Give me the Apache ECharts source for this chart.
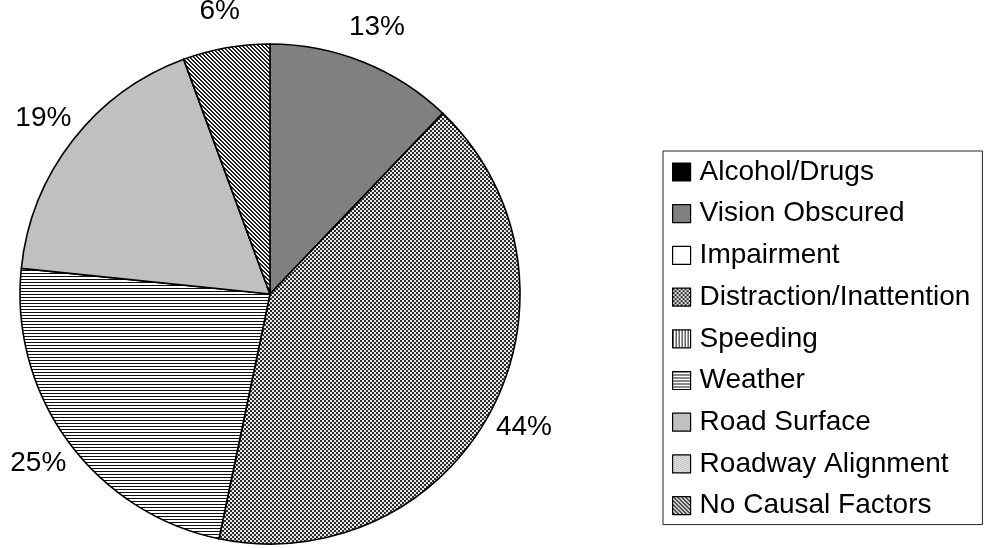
<!DOCTYPE html>
<html>
<head>
<meta charset="utf-8">
<style>
  html, body { margin: 0; padding: 0; background: #fff; }
  #chart { width: 985px; height: 548px; }
</style>
<script src="https://cdn.jsdelivr.net/npm/echarts@6/dist/echarts.min.js"></script>
</head>
<body>
<div id="chart"></div>
<script>
  const categories = [
    "Alcohol/Drugs",
    "Vision Obscured",
    "Impairment",
    "Distraction/Inattention",
    "Speeding",
    "Weather",
    "Road Surface",
    "Roadway Alignment",
    "No Causal Factors",
  ];
  const percents = [0, 13, 0, 44, 0, 25, 19, 0, 6];

  // small repeating tiles used as fills
  function tile(size, fn) {
    const c = document.createElement("canvas");
    c.width = size;
    c.height = size;
    const ctx = c.getContext("2d");
    for (let y = 0; y < size; y++) {
      for (let x = 0; x < size; x++) {
        ctx.fillStyle = fn(x, y);
        ctx.fillRect(x, y, 1, 1);
      }
    }
    return { image: c, repeat: "repeat" };
  }

  const fills = [
    "#000000",
    "#808080",
    "#ffffff",
    tile(4, (x, y) => ((Math.floor(x / 2) + Math.floor(y / 2)) % 2 ? "#e6e6e6" : "#2e2e2e")),
    tile(3, (x) => (x === 0 ? "#111111" : "#ffffff")),
    tile(3, (x, y) => (y === 0 ? "#111111" : "#ffffff")),
    "#c0c0c0",
    tile(4, (x, y) => ((x + 2 * y) % 4 === 0 ? "#ffffff" : "#c4c4c4")),
    tile(4, (x, y) => (((x - y) % 4 + 4) % 4 < 2 ? "#1e1e1e" : "#ffffff")),
  ];

  const pieData = categories.map((name, i) => ({
    name,
    value: percents[i],
    itemStyle: { color: fills[i] },
  }));

  const chart = echarts.init(document.getElementById("chart"));
  chart.setOption({
    animation: false,
    textStyle: { fontFamily: "Liberation Sans, Arial, sans-serif" },
    legend: {
      data: categories,
      orient: "vertical",
      icon: "rect",
      left: 663,
      top: 151,
      itemWidth: 18,
      itemHeight: 18,
      itemGap: 11.7,
      padding: [6, 12, 4, 9],
      borderColor: "#222",
      borderWidth: 1,
      selectedMode: false,
      itemStyle: { borderColor: "#000", borderWidth: 1.2 },
      textStyle: {
        fontSize: 28,
        color: "#000",
        lineHeight: 30,
        padding: [0, 0, 0, 4],
      },
    },
    series: [
      {
        type: "pie",
        center: [270, 294],
        radius: [0, 250],
        startAngle: 90,
        clockwise: true,
        silent: true,
        label: { show: false },
        labelLine: { show: false },
        itemStyle: { borderColor: "#000", borderWidth: 1.6 },
        data: pieData,
      },
      {
        // invisible ring that only carries the percentage labels
        type: "pie",
        center: [270, 294],
        radius: [250, 318],
        startAngle: 90,
        clockwise: true,
        silent: true,
        itemStyle: { color: "transparent", borderWidth: 0 },
        label: {
          show: true,
          position: "inside",
          fontSize: 28,
          color: "#000",
          formatter: (p) => (p.value ? p.value + "%" : ""),
        },
        labelLine: { show: false },
        data: categories.map((name, i) => ({ name, value: percents[i] })),
      },
    ],
  });
  window.addEventListener("resize", () => chart.resize(), { passive: true });
</script>
</body>
</html>
